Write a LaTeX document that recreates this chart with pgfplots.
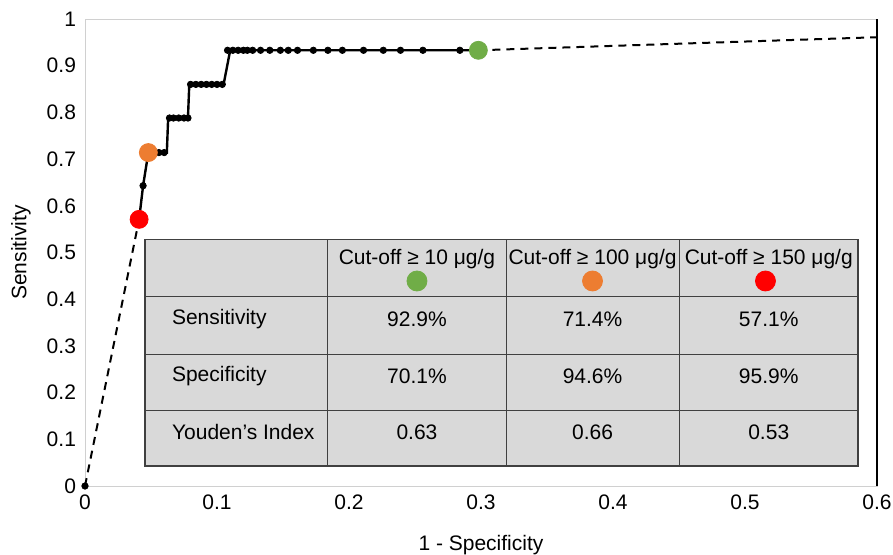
\documentclass[border=0pt]{standalone}
\usepackage{fontspec}
\setmainfont{Liberation Sans}
\usepackage{pgfplots}
\pgfplotsset{compat=1.18}
\definecolor{cgreen}{HTML}{70AD47}
\definecolor{corange}{HTML}{ED7D31}
\definecolor{cred}{HTML}{FF0000}
\definecolor{tabfill}{HTML}{D9D9D9}
\definecolor{tabline}{HTML}{404040}
\definecolor{frame}{HTML}{D0D0D0}

\begin{document}
\begin{tikzpicture}[font=\fontsize{10.5}{12.5}\selectfont]
\useasboundingbox (-42.5pt,-34pt) rectangle (404pt,243pt);
\begin{axis}[at={(0,0)},anchor=origin,scale only axis,width=396pt,height=233.5pt,
xmin=0,xmax=0.6,ymin=0,ymax=1,
xtick={0,0.1,...,0.6},ytick={0,0.1,...,1},
/pgf/number format/.cd,fixed,precision=1,assume math mode=true,/pgfplots/.cd,
major tick length=0pt,axis line style={frame},
xticklabel style={yshift=-1pt},yticklabel style={xshift=-1pt},
xlabel={1 - Specificity},ylabel={Sensitivity},
xlabel style={at={(axis description cs:0.5,0)},anchor=center,yshift=-29.5pt},
ylabel style={at={(axis description cs:0,0.5)},anchor=center,yshift=32pt},
clip=false]
% table behind the curve
\fill[tabfill] (axis cs:0.0455,0.043) rectangle (axis cs:0.5856,0.527);
\draw[tabline,semithick] (axis cs:0.0455,0.043) rectangle (axis cs:0.5856,0.527);
\draw[tabline] (axis cs:0.184,0.043) -- (axis cs:0.184,0.527)
  (axis cs:0.319,0.043) -- (axis cs:0.319,0.527)
  (axis cs:0.450,0.043) -- (axis cs:0.450,0.527)
  (axis cs:0.0455,0.405) -- (axis cs:0.5856,0.405)
  (axis cs:0.0455,0.281) -- (axis cs:0.5856,0.281)
  (axis cs:0.0455,0.161) -- (axis cs:0.5856,0.161);
\node at (axis cs:0.2515,0.486) {Cut-off ≥ 10 μg/g};
\node at (axis cs:0.3845,0.486) {Cut-off ≥ 100 μg/g};
\node at (axis cs:0.518,0.486) {Cut-off ≥ 150 μg/g};
\node[anchor=west] at (axis cs:0.0606,0.358) {Sensitivity};
\node[anchor=west] at (axis cs:0.0606,0.236) {Specificity};
\node[anchor=west] at (axis cs:0.0606,0.116) {Youden’s Index};
\node at (axis cs:0.2515,0.358) {92.9\%};
\node at (axis cs:0.3845,0.358) {71.4\%};
\node at (axis cs:0.518,0.358) {57.1\%};
\node at (axis cs:0.2515,0.236) {70.1\%};
\node at (axis cs:0.3845,0.236) {94.6\%};
\node at (axis cs:0.518,0.236) {95.9\%};
\node at (axis cs:0.2515,0.116) {0.63};
\node at (axis cs:0.3845,0.116) {0.66};
\node at (axis cs:0.518,0.116) {0.53};
\addplot[only marks,mark=*,mark size=5pt,cgreen] coordinates {(0.2515,0.439)};
\addplot[only marks,mark=*,mark size=5pt,corange] coordinates {(0.3845,0.439)};
\addplot[only marks,mark=*,mark size=5pt,cred] coordinates {(0.5155,0.439)};
% dashed extrapolation
\addplot[black,line width=1pt,dash pattern=on 4pt off 3pt] coordinates {(0,0)(0.041,0.571)};
\addplot[black,line width=1pt,dash pattern=on 4pt off 3pt] coordinates {(0.298,0.933)(0.6,0.961)};
% ROC step curve
\addplot[black,line width=1.2pt] coordinates {(0.041,0.571)(0.044,0.643)(0.048,0.714)(0.062,0.714)(0.063,0.788)(0.078,0.788)(0.079,0.860)(0.105,0.860)(0.110,0.933)(0.298,0.933)};
\addplot[only marks,mark=*,mark size=1.6pt,black] coordinates {(0,0)(0.044,0.643)
(0.052,0.714)(0.056,0.714)(0.060,0.714)
(0.064,0.788)(0.067,0.788)(0.071,0.788)(0.075,0.788)(0.078,0.788)
(0.080,0.860)(0.084,0.860)(0.088,0.860)(0.092,0.860)(0.096,0.860)(0.100,0.860)(0.104,0.860)
(0.108,0.933)(0.112,0.933)(0.116,0.933)(0.120,0.933)(0.123,0.933)(0.127,0.933)(0.133,0.933)(0.140,0.933)(0.148,0.933)(0.154,0.933)(0.161,0.933)(0.173,0.933)(0.184,0.933)(0.195,0.933)(0.211,0.933)(0.226,0.933)(0.239,0.933)(0.256,0.933)(0.284,0.933)};
\addplot[only marks,mark=*,mark size=4.5pt,cred] coordinates {(0.041,0.571)};
\addplot[only marks,mark=*,mark size=4.5pt,corange] coordinates {(0.048,0.714)};
\addplot[only marks,mark=*,mark size=4.5pt,cgreen] coordinates {(0.298,0.933)};
\draw[black,semithick] (rel axis cs:1,0) -- (rel axis cs:1,1);
\end{axis}
\end{tikzpicture}
\end{document}
